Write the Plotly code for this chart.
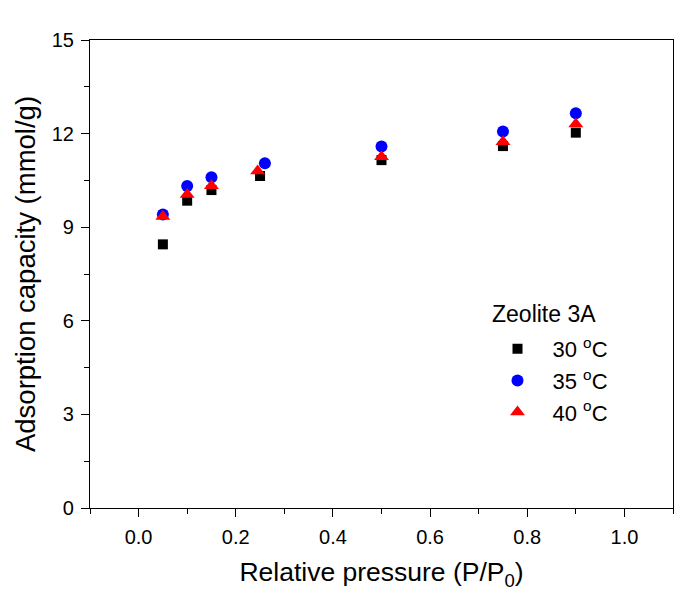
import plotly.graph_objects as go

x30 = [0.05, 0.10, 0.15, 0.25, 0.50, 0.75, 0.90]
y30 = [8.45, 9.85, 10.19, 10.64, 11.15, 11.60, 12.03]
x35 = [0.05, 0.10, 0.15, 0.26, 0.50, 0.75, 0.90]
y35 = [9.41, 10.32, 10.60, 11.05, 11.59, 12.07, 12.65]
x40 = [0.05, 0.10, 0.15, 0.245, 0.50, 0.75, 0.90]
y40 = [9.34, 10.05, 10.33, 10.80, 11.26, 11.74, 12.31]

series_names = ["30 <sup>o</sup>C", "35 <sup>o</sup>C", "40 <sup>o</sup>C"]
legend_title = "Zeolite 3A"

font_family = "Liberation Sans, Arial, sans-serif"

fig = go.Figure()
fig.add_trace(go.Scatter(x=x30, y=y30, mode="markers", name=series_names[0],
                         marker=dict(symbol="square", size=10, color="black")))
fig.add_trace(go.Scatter(x=x35, y=y35, mode="markers", name=series_names[1],
                         marker=dict(symbol="circle", size=12, color="#0000ff")))
fig.add_trace(go.Scatter(x=x40, y=y40, mode="markers", name=series_names[2],
                         marker=dict(symbol="triangle-up", size=13, color="#ff0000")))

axis_common = dict(
    showline=True, linecolor="black", linewidth=1.2, mirror=True,
    ticks="outside", ticklen=8, tickwidth=1.2, tickcolor="black",
    showgrid=False, zeroline=False, ticklabelstandoff=3,
    tickfont=dict(family=font_family, size=20, color="black"),
)

# figure sits at an 8px page offset; plot area spans x 90-673, y 40-508 in the window
fig.update_layout(
    width=692, height=592,
    margin=dict(l=82, r=27, t=32, b=92),
    plot_bgcolor="white", paper_bgcolor="white",
    font=dict(family=font_family, color="black"),
    xaxis=dict(range=[-0.1, 1.1], tickvals=[0, 0.2, 0.4, 0.6, 0.8, 1.0], tickformat=".1f",
               minor=dict(tickvals=[-0.1, 0.1, 0.3, 0.5, 0.7, 0.9, 1.1], ticks="outside", ticklen=5, tickcolor="black", tickwidth=1.2),
               title=dict(text="Relative pressure (P/P<sub>0</sub>)", font=dict(size=26.5), standoff=15),
               **axis_common),
    yaxis=dict(range=[0, 15], tickvals=[0, 3, 6, 9, 12, 15],
               minor=dict(tickvals=[1.5, 4.5, 7.5, 10.5, 13.5], ticks="outside", ticklen=5, tickcolor="black", tickwidth=1.2),
               title=dict(text="Adsorption capacity (mmol/g)", font=dict(size=27.5), standoff=8),
               **axis_common),
    showlegend=True,
    legend=dict(x=(482.5 - 90) / 583, y=(508 - 328) / 468, xanchor="left", yanchor="top",
                font=dict(size=22, family=font_family), itemwidth=60,
                bgcolor="rgba(0,0,0,0)"),
)
fig.add_annotation(text=legend_title, xref="paper", yref="paper",
                   x=(490 - 90) / 583, y=(508 - 314) / 468, xanchor="left", yanchor="middle",
                   showarrow=False, font=dict(size=23, family=font_family, color="black"))

fig.write_html("out.html")
